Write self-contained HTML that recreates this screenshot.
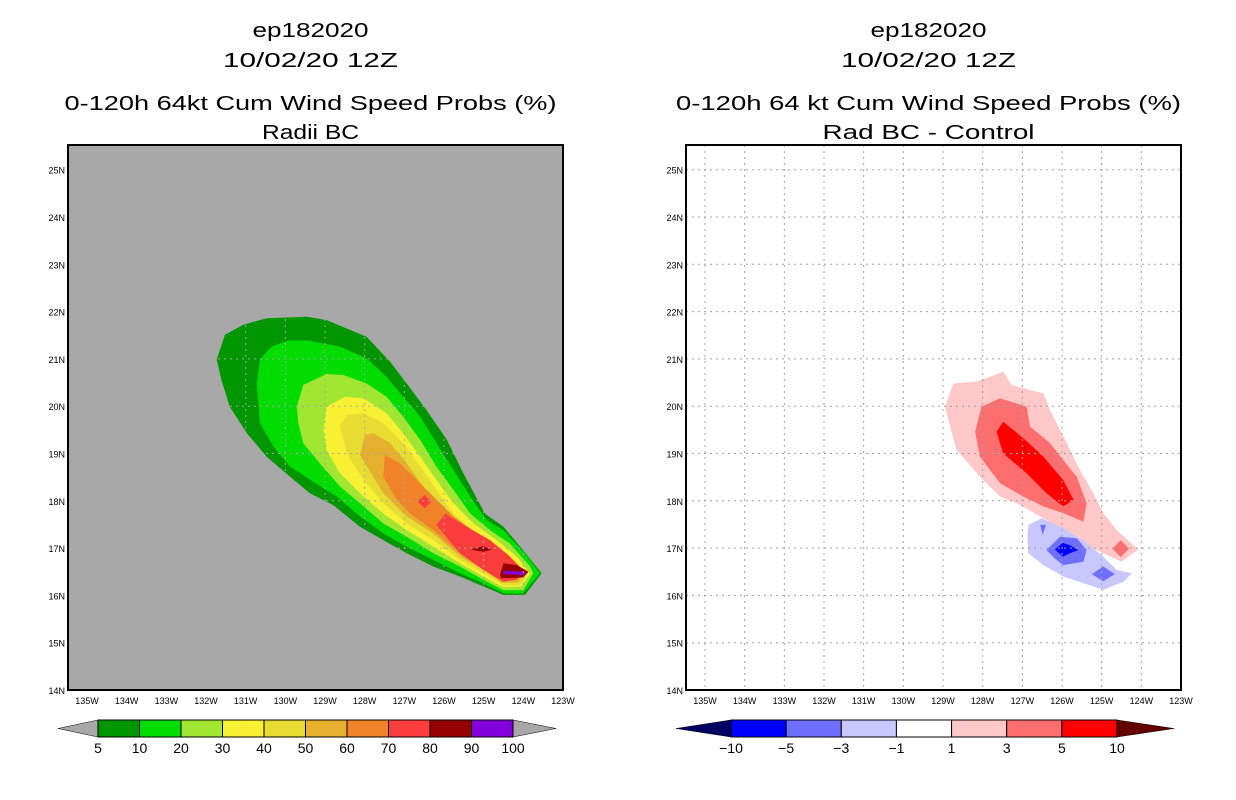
<!DOCTYPE html>
<html><head><meta charset="utf-8">
<style>
html,body{margin:0;padding:0;background:#fff;}
svg{display:block;font-family:"Liberation Sans",sans-serif;}
</style></head>
<body>
<svg id="c" width="1236" height="800" viewBox="0 0 1236 800" xmlns="http://www.w3.org/2000/svg"></svg>
<script>
// ---------- data ----------
const lonTicks = [135,134,133,132,131,130,129,128,127,126,125,124,123];
const latTicks = [14,15,16,17,18,19,20,21,22,23,24,25];
const leftLevels = ['5','10','20','30','40','50','60','70','80','90','100'];
const leftColors = ['#009600','#00dc00','#a0e632','#f8f032','#e6dc32','#e6af2d','#f08228','#fa3c3c','#960000','#8200dc'];
const rightLevels = ['-10','-5','-3','-1','1','3','5','10'];
const rightColors = ['#000064','#0000ff','#6e6eff','#c8c8ff','#ffffff','#ffc8c8','#ff6e6e','#ff0000','#640000'];

// probability contours (lon W, lat N)
const p5 = [[131.73,20.99],[131.52,21.51],[131.06,21.72],[130.47,21.86],[129.46,21.89],[128.96,21.82],[127.95,21.47],[127.36,20.94],[126.94,20.48],[126.44,19.92],[125.93,19.29],[125.51,18.58],[124.97,17.73],[124.50,17.45],[124.08,17.03],[123.54,16.47],[123.96,16.01],[124.50,16.01],[125.01,16.19],[125.60,16.40],[126.27,16.61],[126.94,16.89],[127.53,17.17],[128.12,17.45],[128.79,17.91],[129.38,18.16],[129.88,18.51],[130.47,18.93],[130.97,19.43],[131.40,19.99],[131.61,20.55]];
const p10 = [[130.72,20.48],[130.64,20.98],[130.35,21.26],[129.93,21.39],[129.46,21.39],[128.62,21.26],[127.95,21.01],[127.45,20.62],[127.03,20.20],[126.60,19.78],[126.19,19.22],[125.76,18.65],[125.34,18.09],[124.92,17.59],[124.50,17.38],[123.96,16.89],[123.58,16.47],[124.00,16.04],[124.50,16.04],[125.01,16.26],[125.60,16.47],[126.27,16.75],[126.94,17.03],[127.53,17.31],[128.12,17.67],[128.71,18.09],[129.29,18.40],[129.88,18.72],[130.30,19.15],[130.64,19.64]];
const p20 = [[129.71,19.99],[129.55,20.45],[128.96,20.68],[128.54,20.66],[127.95,20.48],[127.45,20.20],[127.03,19.78],[126.60,19.29],[126.19,18.72],[125.76,18.23],[125.34,17.73],[124.84,17.38],[124.34,17.10],[123.83,16.61],[123.75,16.47],[124.00,16.11],[124.50,16.11],[125.01,16.33],[125.60,16.61],[126.27,16.89],[126.94,17.24],[127.53,17.52],[128.12,17.95],[128.62,18.30],[129.13,18.79],[129.55,19.22],[129.67,19.64]];
const p30 = [[129.04,19.50],[128.96,19.99],[128.49,20.20],[128.03,20.17],[127.45,19.85],[127.03,19.43],[126.60,18.93],[126.19,18.44],[125.76,17.95],[125.26,17.52],[124.67,17.17],[124.17,16.82],[123.83,16.47],[124.04,16.19],[124.50,16.17],[125.01,16.40],[125.60,16.68],[126.27,17.03],[126.94,17.38],[127.53,17.73],[128.12,18.16],[128.62,18.58],[128.96,19.07]];
const p40 = [[128.62,19.57],[128.45,19.81],[128.03,19.85],[127.53,19.64],[127.03,19.22],[126.60,18.72],[126.19,18.23],[125.76,17.73],[125.26,17.38],[124.67,17.03],[124.17,16.68],[123.91,16.40],[124.08,16.22],[124.50,16.22],[125.01,16.47],[125.60,16.75],[126.27,17.17],[126.94,17.52],[127.53,17.95],[128.03,18.44],[128.45,19.00]];
const p50 = [[128.12,18.97],[127.99,19.39],[127.78,19.43],[127.36,19.22],[126.94,18.79],[126.52,18.30],[126.10,17.88],[125.60,17.45],[125.01,17.17],[124.42,16.89],[123.96,16.47],[124.13,16.27],[124.55,16.27],[125.01,16.54],[125.60,16.82],[126.27,17.31],[126.94,17.67],[127.53,18.16]];
const p60 = [[127.53,18.51],[127.49,18.97],[127.11,18.79],[126.69,18.44],[126.27,18.09],[125.76,17.67],[125.18,17.31],[124.59,17.00],[124.04,16.50],[124.17,16.33],[124.55,16.33],[125.01,16.61],[125.60,16.89],[126.27,17.38],[126.86,17.73],[127.19,18.02]];
const p70 = [[126.19,17.49],[125.97,17.73],[125.43,17.45],[124.84,17.17],[124.34,16.82],[123.96,16.50],[124.17,16.33],[124.50,16.29],[125.01,16.54],[125.60,16.89]];
const p70b = [[126.66,17.98],[126.49,18.12],[126.32,17.98],[126.49,17.84]];
const p80 = [[124.59,16.43],[124.50,16.68],[124.17,16.64],[123.87,16.50],[124.00,16.38],[124.55,16.36]];
const p80b = [[125.34,16.97],[125.01,17.04],[124.80,16.97],[125.01,16.92]];
const p90 = [[124.50,16.52],[123.96,16.50],[123.96,16.43],[124.50,16.45]];

// difference contours
const d1 = [[128.95,19.99],[128.74,20.48],[128.15,20.52],[127.48,20.73],[127.27,20.45],[126.47,20.27],[126.30,19.92],[125.88,19.22],[125.55,18.65],[125.21,18.16],[124.96,17.74],[124.62,17.38],[124.08,16.97],[124.50,16.71],[124.96,16.89],[125.46,17.10],[125.97,17.38],[126.55,17.67],[127.14,17.95],[127.56,18.09],[128.07,18.51],[128.66,19.08],[128.82,19.57]];
const d3 = [[128.19,19.46],[128.03,19.99],[127.56,20.17],[126.89,19.99],[126.81,19.57],[126.30,19.22],[125.97,18.86],[125.63,18.51],[125.38,17.95],[125.46,17.56],[125.97,17.74],[126.47,17.88],[126.98,18.09],[127.56,18.37],[128.07,18.93]];
const d3b = [[124.73,16.99],[124.52,17.17],[124.31,16.99],[124.52,16.81]];
const d5 = [[127.65,19.46],[127.48,19.67],[126.93,19.29],[126.47,18.93],[125.97,18.44],[125.71,18.02],[125.97,17.88],[126.39,18.16],[126.89,18.58],[127.48,19.00]];
const m1 = [[126.85,17.49],[126.51,17.63],[125.97,17.42],[125.46,17.17],[124.96,16.82],[124.62,16.54],[124.24,16.47],[124.45,16.29],[124.96,16.12],[125.46,16.26],[125.97,16.40],[126.47,16.64],[126.85,16.89],[126.87,17.24]];
const m3 = [[126.39,16.96],[126.05,17.24],[125.63,17.21],[125.38,16.96],[125.46,16.71],[125.97,16.64],[126.18,16.78]];
const m3b = [[126.55,17.49],[126.40,17.49],[126.49,17.28]];
const m3c = [[125.25,16.45],[124.96,16.61],[124.67,16.45],[124.96,16.30]];
const m5 = [[126.18,16.97],[125.98,17.11],[125.80,17.06],[125.59,16.96],[125.80,16.89],[125.98,16.82]];

// ---------- drawing ----------
const NS='http://www.w3.org/2000/svg';
const svg=document.getElementById('c');
function mk(tag,attrs,parent){const e=document.createElementNS(NS,tag);for(const k in attrs)e.setAttribute(k,attrs[k]);(parent||svg).appendChild(e);return e;}
const Y0=145, Y1=690, PW=495;
function xs(ox){return lon=>ox+19+(135-lon)*(476/12);}
function ys(lat){return 690-(lat-14)*47.3;}

function panel(ox,name,bg,titles,tlens,polys,grid){
  const g=mk('g',{});
  
  
  const X=xs(ox);
  const r=mk('rect',{x:ox,y:Y0,width:PW,height:Y1-Y0,fill:bg},g);
  
  
  polys.forEach(([pts,col,nm])=>{
    const p=mk('polygon',{points:pts.map(q=>X(q[0]).toFixed(1)+','+ys(q[1]).toFixed(1)).join(' '),fill:col},g);
    
    
  });
  lonTicks.forEach(l=>{const x=X(l);if(x>ox+1&&x<ox+PW-1){const ln=mk('line',{x1:x,x2:x,y1:Y0,y2:Y1,stroke:grid,'stroke-width':1,'stroke-dasharray':'2,4'},g);
    
    }});
  latTicks.forEach(l=>{const y=ys(l);if(y>Y0+1&&y<Y1-1){const ln=mk('line',{x1:ox,x2:ox+PW,y1:y,y2:y,stroke:grid,'stroke-width':1,'stroke-dasharray':'2,4'},g);
    
    }});
  const f=mk('rect',{x:ox,y:Y0,width:PW,height:Y1-Y0,fill:'none',stroke:'#000','stroke-width':2},g);
  
  
  lonTicks.forEach(l=>{const t=mk('text',{x:X(l),y:704,'font-size':9,'text-anchor':'middle',fill:'#000'},g);t.textContent=l+'W';
    
    });
  latTicks.forEach(l=>{const t=mk('text',{x:ox-3,y:ys(l)+4,'font-size':9,'text-anchor':'end',fill:'#000'},g);t.textContent=l+'N';
    
    });
  const cx=ox+PW/2-5;
  const tys=[37,67,110,139];
  titles.forEach((s,i)=>{const t=mk('text',{x:cx,y:tys[i],'font-size':20,'text-anchor':'middle',fill:'#000'},g);
    t.setAttribute('textLength',tlens[i]);t.setAttribute('lengthAdjust','spacingAndGlyphs');
    t.textContent=s;
    
    });
}

panel(68,'left-panel','#a8a8a8',['ep182020','10/02/20 12Z','0-120h 64kt Cum Wind Speed Probs (%)','Radii BC'],[116,175,492,97],[
 [p5,leftColors[0],'contour-5'],[p10,leftColors[1],'contour-10'],[p20,leftColors[2],'contour-20'],[p30,leftColors[3],'contour-30'],
 [p40,leftColors[4],'contour-40'],[p50,leftColors[5],'contour-50'],[p60,leftColors[6],'contour-60'],[p70,leftColors[7],'contour-70'],
 [p70b,leftColors[7],'contour-70-small'],[p80,leftColors[8],'contour-80'],[p80b,leftColors[8],'contour-80-small'],[p90,leftColors[9],'contour-90']
],'#a8a8a8');
panel(686,'right-panel','#ffffff',['ep182020','10/02/20 12Z','0-120h 64 kt Cum Wind Speed Probs (%)','Rad BC - Control'],[116,175,505,212],[
 [d1,rightColors[5],'diff-pos-1'],[d3,rightColors[6],'diff-pos-3'],[d3b,rightColors[6],'diff-pos-3-small'],[d5,rightColors[7],'diff-pos-5'],
 [m1,rightColors[3],'diff-neg-1'],[m3,rightColors[2],'diff-neg-3'],[m3b,rightColors[2],'diff-neg-3-small'],[m3c,rightColors[2],'diff-neg-3-east'],[m5,rightColors[1],'diff-neg-5']
],'#a0a0a0');

// ---------- colorbars ----------
function colorbar(name,x0,x1,tipL,tipR,cols,labels,tipLc,tipRc){
  const g=mk('g',{});
  
  
  const y0=720,y1=737,ym=728.5,n=cols.length,w=(x1-x0)/n;
  const a=mk('polygon',{points:`${tipL},${ym} ${x0},${y0} ${x0},${y1}`,fill:tipLc,stroke:'#000','stroke-width':0.5},g);
  
  
  const b=mk('polygon',{points:`${tipR},${ym} ${x1},${y0} ${x1},${y1}`,fill:tipRc,stroke:'#000','stroke-width':0.5},g);
  
  
  cols.forEach((c,i)=>{const r=mk('rect',{x:x0+i*w,y:y0,width:w,height:y1-y0,fill:c,stroke:'#000','stroke-width':1},g);
    
    });
  labels.forEach((s,i)=>{const t=mk('text',{x:x0+i*w,y:753,'font-size':14,'text-anchor':'middle',fill:'#000'},g);t.textContent=s.replace('-','\u2212');
    
    });
}
colorbar('left-colorbar',98,513,58,556,leftColors,leftLevels,'#a8a8a8','#a8a8a8');
colorbar('right-colorbar',731,1117,676,1174,rightColors.slice(1,8),rightLevels,rightColors[0],rightColors[8]);
</script>
</body></html>
